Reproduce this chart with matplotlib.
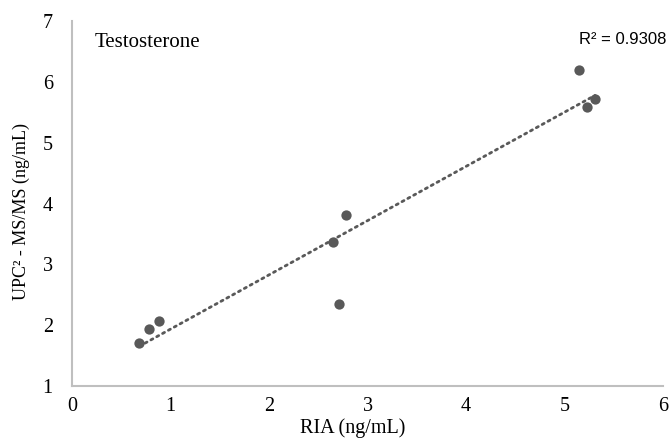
import numpy as np
import matplotlib
matplotlib.use("Agg")
import matplotlib.pyplot as plt

# values
ria = [0.68, 0.78, 0.88, 2.65, 2.78, 2.71, 5.15, 5.31, 5.23]
upc2 = [1.70, 1.94, 2.07, 3.37, 3.82, 2.35, 6.20, 5.72, 5.59]
xticks = [0, 1, 2, 3, 4, 5, 6]
yticks = [1, 2, 3, 4, 5, 6, 7]
r2_label = "R² = 0.9308"

x = np.array(ria)
y = np.array(upc2)

# linear trendline over the data range (excel style)
slope, intercept = np.polyfit(x, y, 1)
xs = np.array([x.min(), x.max()])

fig = plt.figure(figsize=(6.71, 4.47), dpi=100)
ax = fig.add_axes([0.1077, 0.1365, 0.8803, 0.8155])

serif = "Liberation Serif"
dark = "#595959"
fs = 14.5

ax.plot(xs, slope * xs + intercept, color=dark, lw=2,
        linestyle=(0, (0.8, 1.6)), dash_capstyle="round", zorder=2)
ax.scatter(x, y, s=55, color=dark, zorder=3, linewidths=0)

ax.set_xlim(0, 6)
ax.set_ylim(1, 7)
ax.set_xticks(xticks)
ax.set_yticks(yticks)
ax.set_xticklabels([str(t) for t in xticks], family=serif, fontsize=fs)
ax.set_yticklabels([str(t) for t in yticks], family=serif, fontsize=fs)
ax.tick_params(length=0)
ax.tick_params(axis="x", pad=8)
ax.tick_params(axis="y", pad=14)

for side in ["top", "right"]:
    ax.spines[side].set_visible(False)
for side in ["left", "bottom"]:
    ax.spines[side].set_color("#BFBFBF")
    ax.spines[side].set_linewidth(1.5)

ax.set_xlabel("RIA (ng/mL)", family=serif, fontsize=fs, va="center")
ax.set_ylabel("UPC² - MS/MS (ng/mL)", family=serif, fontsize=13,
              va="center", ha="center")
ax.xaxis.set_label_coords(0.475, -0.115)
ax.yaxis.set_label_coords(-0.0868, 0.48)

ax.text(0.038, 0.941, "Testosterone", transform=ax.transAxes,
        family=serif, fontsize=15, va="center", ha="left")
fig.text(579 / 671, 1 - 40 / 447, r2_label,
         family="Liberation Sans", fontsize=12, va="center", ha="left")

fig.savefig("out.png", dpi=100)
